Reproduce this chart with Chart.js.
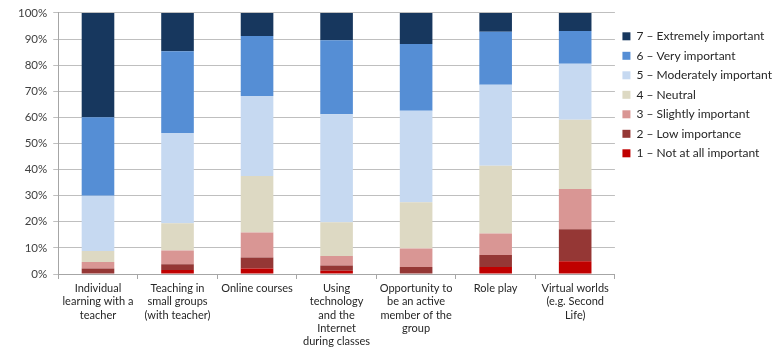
<!DOCTYPE html>
<html><head><meta charset="utf-8">
<script src="https://cdn.jsdelivr.net/npm/chart.js@4/dist/chart.umd.min.js"></script>
<style>html,body{margin:0;padding:0;background:#fff;}canvas{display:block;}</style>
</head><body>
<canvas id="c" width="774" height="347"></canvas>
<script>
const categories = [
  ["Individual","learning with a","teacher"],
  ["Teaching in","small groups","(with teacher)"],
  ["Online courses"],
  ["Using","technology","and the","Internet","during classes"],
  ["Opportunity to","be an active","member of the","group"],
  ["Role play"],
  ["Virtual worlds","(e.g. Second","Life)"]
];
const seriesNames = ["1 – Not at all important","2 – Low importance","3 – Slightly important","4 – Neutral","5 – Moderately important","6 – Very important","7 – Extremely important"];
const s1 = [0, 1.5, 2.1, 1.2, 0, 2.7, 4.9];
const s2 = [2.1, 2.2, 4.2, 2.1, 2.7, 4.6, 12.2];
const s3 = [2.5, 5.3, 9.6, 3.6, 7.1, 8.2, 15.5];
const s4 = [4.2, 10.4, 21.6, 12.9, 17.7, 26.0, 26.5];
const s5 = [21.2, 34.6, 30.7, 41.4, 35.0, 31.0, 21.4];
const s6 = [30.0, 31.3, 23.0, 28.3, 25.6, 20.3, 12.6];
const s7 = [40.0, 14.7, 8.8, 10.5, 11.9, 7.2, 6.9];
const yTicks = [0,10,20,30,40,50,60,70,80,90,100];
const colors = ["#c00000","#953735","#d99694","#ddd9c3","#c6d9f1","#558ed5","#17375e"];
const seriesValues = [s1,s2,s3,s4,s5,s6,s7];

Chart.defaults.font.family = "Lato, 'Open Sans', sans-serif";
Chart.defaults.font.size = 11;
Chart.defaults.color = "#404040";

new Chart(document.getElementById('c'), {
  type: 'bar',
  data: {
    labels: categories,
    datasets: seriesValues.map((v,i)=>({
      label: seriesNames[i], data: v, backgroundColor: colors[i],
      borderWidth: 0, barPercentage: 0.41, categoryPercentage: 1
    }))
  },
  options: {
    responsive: false, animation: false,
    layout: { padding: { top: 12, left: 12, right: -8, bottom: -4 } },
    plugins: {
      legend: {
        position: 'right', align: 'start', reverse: true,
        title: { display: true, text: ' ', padding: 0, font: { size: 9 } },
        labels: { boxWidth: 8, boxHeight: 8, padding: 7.5, color: '#262626', font: { size: 12 } }
      },
      tooltip: { enabled: false }
    },
    scales: {
      x: {
        stacked: true,
        grid: { display: true, drawOnChartArea: false, offset: true, tickLength: 5, color: '#a6a6a6' },
        border: { color: '#a6a6a6' },
        ticks: { maxRotation: 0, autoSkip: false, color: '#262626', font: { size: 11, lineHeight: 1.2 } }
      },
      y: {
        stacked: true, min: 0, max: 100,
        afterBuildTicks: (ax) => { ax.ticks = yTicks.map(v => ({ value: v })); },
        grid: { color: '#bfbfbf', tickLength: 5, lineWidth: 1 },
        border: { color: '#a6a6a6' },
        ticks: { callback: v => v + '%', color: '#404040', font: { size: 11.5 }, padding: 6 }
      }
    }
  }
});
</script>
</body></html>
